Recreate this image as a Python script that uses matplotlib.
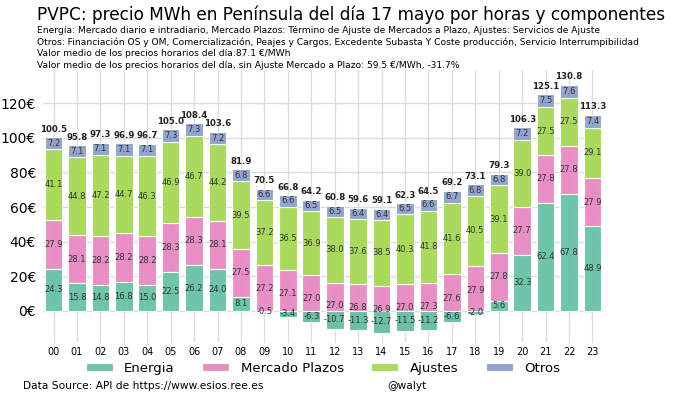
import numpy as np
import matplotlib.pyplot as plt

horas = ['%02d' % h for h in range(24)]
energia = [24.3, 15.8, 14.8, 16.8, 15.0, 22.5, 26.2, 24.0, 8.1, -0.5, -3.4, -6.3,
           -10.7, -11.3, -12.7, -11.5, -11.2, -6.6, -2.0, 5.6, 32.3, 62.4, 67.8, 48.9]
plazos = [27.9, 28.1, 28.2, 28.2, 28.2, 28.3, 28.3, 28.1, 27.5, 27.2, 27.1, 27.0,
          27.0, 26.8, 26.9, 27.0, 27.3, 27.6, 27.9, 27.8, 27.7, 27.8, 27.8, 27.9]
ajustes = [41.1, 44.8, 47.2, 44.7, 46.3, 46.9, 46.7, 44.2, 39.5, 37.2, 36.5, 36.9,
           38.0, 37.6, 38.5, 40.3, 41.8, 41.6, 40.5, 39.1, 39.0, 27.5, 27.5, 29.1]
otros = [7.2, 7.1, 7.1, 7.1, 7.1, 7.3, 7.3, 7.2, 6.8, 6.6, 6.6, 6.5,
         6.5, 6.4, 6.4, 6.5, 6.6, 6.7, 6.8, 6.8, 7.2, 7.5, 7.6, 7.4]
totales = [100.5, 95.8, 97.3, 96.9, 96.7, 105.0, 108.4, 103.6, 81.9, 70.5, 66.8, 64.2,
           60.8, 59.6, 59.1, 62.3, 64.5, 69.2, 73.1, 79.3, 106.3, 125.1, 130.8, 113.3]

series = [('Energia', energia, '#66c2a5'),
          ('Mercado Plazos', plazos, '#e78ac3'),
          ('Ajustes', ajustes, '#a6d854'),
          ('Otros', otros, '#8da0cb')]

fig = plt.figure(figsize=(6.8, 3.98), dpi=100)
ax = fig.add_axes([43/680, 1-343/398, 560/680, 273/398])

x = np.arange(len(horas))
bottom = np.zeros(len(horas))
for i, (name, vals, col) in enumerate(series):
    vals = np.array(vals)
    z = 4 if i == 0 else 3
    ax.bar(x, vals, 0.75, bottom=bottom, color=col, edgecolor='white', linewidth=0.8,
           label=name, zorder=z, alpha=0.95)
    for xi, b, v in zip(x, bottom, vals):
        ax.text(xi, b + v/2, '%.1f' % v, ha='center', va='center', fontsize=6,
                color='#333333', zorder=5)
    bottom = bottom + vals

for xi, top, t in zip(x, bottom, totales):
    ax.annotate('%.1f' % t, (xi, top), xytext=(0, 2.5), textcoords='offset points',
                ha='center', va='bottom', fontsize=6.2, fontweight='bold', color='#222222')

ax.set_xlim(-0.45, 23.45)
ax.set_ylim(-18.7, 139.3)
ax.set_xticks(x)
ax.set_xticklabels(horas, fontsize=7)
ax.set_yticks(range(0, 121, 20))
ax.set_yticklabels(['%d€' % v for v in range(0, 121, 20)], fontsize=10)
ax.tick_params(axis='y', length=0, pad=5)
ax.tick_params(axis='x', length=0, pad=3)
ax.grid(True, color='#dddddd', linewidth=1, zorder=0)
ax.set_axisbelow(True)
for s in ax.spines.values():
    s.set_visible(False)

fig.text(37/680, 1-15/398, 'PVPC: precio MWh en Península del día 17 mayo por horas y componentes',
         fontsize=12.2, va='center', ha='left')
subs = ['Energía: Mercado diario e intradiario, Mercado Plazos: Término de Ajuste de Mercados a Plazo, Ajustes: Servicios de Ajuste',
        'Otros: Financiación OS y OM, Comercialización, Peajes y Cargos, Excedente Subasta Y Coste producción, Servicio Interrumpibilidad',
        'Valor medio de los precios horarios del día:87.1 €/MWh',
        'Valor medio de los precios horarios del día, sin Ajuste Mercado a Plazo: 59.5 €/MWh, -31.7%']
for k, s in enumerate(subs):
    fig.text(37/680, 1-(30+12*k)/398, s, fontsize=6.6, va='center', ha='left')

ax.legend(loc='center', bbox_to_anchor=(0.5, -0.092), ncol=4, frameon=False, fontsize=9.5,
          handlelength=2.05, handleheight=0.6, handletextpad=0.85, columnspacing=2.1,
          borderaxespad=0)

fig.text(23/680, 1-386/398, 'Data Source: API de https://www.esios.ree.es', fontsize=7.7, va='center')
fig.text(387/680, 1-386/398, '@walyt', fontsize=7.7, va='center')

fig.savefig('out.png', dpi=100)
